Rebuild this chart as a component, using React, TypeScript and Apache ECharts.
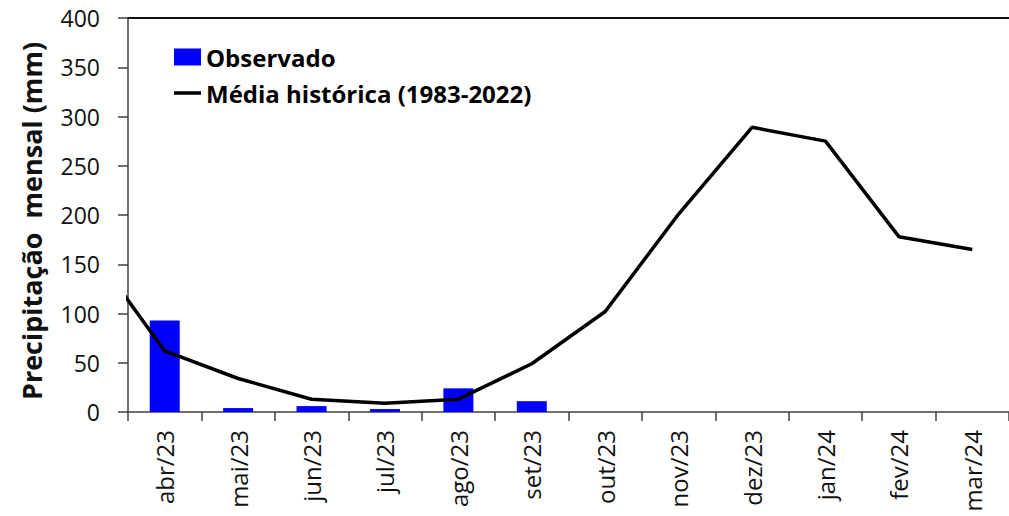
import React, { useEffect, useRef } from "react";
import * as echarts from "echarts";

const categories = ["abr/23", "mai/23", "jun/23", "jul/23", "ago/23", "set/23", "out/23", "nov/23", "dez/23", "jan/24", "fev/24", "mar/24"];
const observed = [93, 4, 6, 3, 24, 11, null, null, null, null, null, null];
const historical = [62, 34, 13, 9, 13, 49, 102, 201, 289, 275, 178, 165];
// value of the month before the first category (mar/23), only its segment shows at the left edge
const historicalPrev = 165;
const yTicks = { min: 0, max: 400, interval: 50 };
const yTitle = "Precipitação  mensal (mm)";

export default function App() {
  const ref = useRef<HTMLDivElement>(null);
  useEffect(() => {
    if (!ref.current) return;
    const chart = echarts.init(ref.current, null, { renderer: "svg" });
    const lineData: [number, number][] = [[-1, historicalPrev], ...historical.map((v, i) => [i, v] as [number, number])];
    const font = "Open Sans";
    chart.setOption({
      animation: false,
      backgroundColor: "#ffffff",
      grid: { left: 128, top: 18, bottom: 104, width: 894 },
      graphic: [
        {
          type: "text",
          x: 31,
          y: 221,
          rotation: Math.PI / 2,
          style: {
            text: yTitle,
            fontFamily: font,
            fontSize: 27,
            fontWeight: "bold",
            fill: "#111",
            align: "center",
            verticalAlign: "middle",
          },
        },
      ],
      legend: {
        orient: "vertical",
        left: 174,
        top: 45,
        padding: 0,
        itemWidth: 27,
        itemHeight: 17,
        itemGap: 12,
        textStyle: { fontFamily: font, fontSize: 24, fontWeight: "bold", color: "#000" },
        data: [
          { name: "Observado", icon: "rect" },
          {
            name: "Média histórica (1983-2022)",
            icon: "path://M0,0h27v0.01h-27z M0,6.8h27v3.4h-27z M0,16.99h27v0.01h-27z",
          },
        ],
      },
      xAxis: [
        {
          type: "category",
          data: categories,
          boundaryGap: true,
          position: "bottom",
          axisLine: { onZero: false, lineStyle: { color: "#404040", width: 1.5 } },
          axisTick: { show: true, inside: false, length: 9, alignWithLabel: false, lineStyle: { color: "#404040", width: 1.5 } },
          axisLabel: { rotate: 90, interval: 0, margin: 18, fontFamily: font, fontSize: 24, color: "#111" },
          splitLine: { show: false },
        },
        {
          type: "value",
          min: -0.5,
          max: 11.5,
          position: "top",
          axisLine: { show: true, onZero: false, lineStyle: { color: "#111", width: 2 } },
          axisTick: { show: false },
          axisLabel: { show: false },
          splitLine: { show: false },
        },
      ],
      yAxis: {
        type: "value",
        min: yTicks.min,
        max: yTicks.max,
        interval: yTicks.interval,
        position: "left",
        axisLine: { show: true, onZero: false, lineStyle: { color: "#404040", width: 1.5 } },
        axisTick: { show: true, inside: false, length: 10, lineStyle: { color: "#404040", width: 1.5 } },
        axisLabel: { margin: 28, fontFamily: font, fontSize: 23, color: "#111" },
        splitLine: { show: false },
      },
      series: [
        {
          name: "Observado",
          type: "bar",
          xAxisIndex: 0,
          data: observed,
          barWidth: 30,
          itemStyle: { color: "#0000ff" },
        },
        {
          name: "Média histórica (1983-2022)",
          type: "line",
          xAxisIndex: 1,
          data: lineData,
          symbol: "none",
          clip: true,
          lineStyle: { color: "#000", width: 3.5 },
          itemStyle: { color: "#000" },
        },
      ],
    });
    return () => chart.dispose();
  }, []);
  return <div ref={ref} style={{ position: "fixed", left: 0, top: 0, width: 1009, height: 516 }} />;
}
